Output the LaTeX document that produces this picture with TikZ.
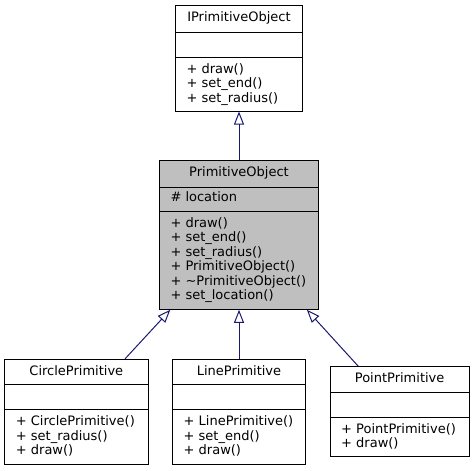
\documentclass[tikz,border=0pt]{standalone}
\usepackage{fontspec}
\setmainfont{DejaVu Sans}
\usepackage{tikz}
\usetikzlibrary{arrows.meta}
\definecolor{edgeblue}{HTML}{191970}
\definecolor{basegray}{HTML}{BFBFBF}
\tikzstyle{classbox}=[draw=black,line width=1pt,inner sep=0pt]
\tikzstyle{title}=[anchor=base,inner sep=0pt]
\tikzstyle{member}=[anchor=base west,inner sep=0pt]
\tikzstyle{inherit}=[draw=edgeblue,line width=1pt,-{Triangle[open,length=13pt,width=10pt]}]

\begin{document}
\begin{tikzpicture}[x=1pt,y=-1pt,font=\fontsize{13}{15}\selectfont]
\useasboundingbox (0,0) rectangle (474,471);

% interface
\node[classbox,minimum width=127.4pt,minimum height=105.3pt] (iprimobj) at (239,58.35) {};
\draw (175.3,31.7) -- (302.7,31.7);
\draw (175.3,56.7) -- (302.7,56.7);
\node[title] (iprimobj-t) at (239,21.5) {IPrimitiveObject};
\node[member] (iprimobj-m1) at (186.3,73) {+ draw()};
\node[member] (iprimobj-m2) at (186.3,87.5) {+ set\_end()};
\node[member] (iprimobj-m3) at (186.3,102) {+ set\_radius()};

% base class
\node[classbox,fill=basegray,minimum width=159.3pt,minimum height=148.6pt] (primobj) at (239,235) {};
\draw (159.35,186.7) -- (318.65,186.7);
\draw (159.35,211) -- (318.65,211);
\node[title] (primobj-t) at (239,176.5) {PrimitiveObject};
\node[member] (primobj-a1) at (170.3,201.7) {\# location};
\node[member] (primobj-m1) at (170.3,227.3) {+ draw()};
\node[member] (primobj-m2) at (170.3,241.8) {+ set\_end()};
\node[member] (primobj-m3) at (170.3,256.3) {+ set\_radius()};
\node[member] (primobj-m4) at (170.3,270.8) {+ PrimitiveObject()};
\node[member] (primobj-m5) at (170.3,285.3) {+ \textasciitilde PrimitiveObject()};
\node[member] (primobj-m6) at (170.3,299.8) {+ set\_location()};

% derived classes
\node[classbox,minimum width=143.3pt,minimum height=104.7pt] (circleprim) at (76.35,411.65) {};
\draw (4.7,384.3) -- (148,384.3);
\draw (4.7,409.3) -- (148,409.3);
\node[title] (circleprim-t) at (76.35,375) {CirclePrimitive};
\node[member] (circleprim-m1) at (15.7,425.6) {+ CirclePrimitive()};
\node[member] (circleprim-m2) at (15.7,440.1) {+ set\_radius()};
\node[member] (circleprim-m3) at (15.7,454.6) {+ draw()};

\node[classbox,minimum width=133pt,minimum height=104.7pt] (lineprim) at (239,411.65) {};
\draw (172.5,384.3) -- (305.5,384.3);
\draw (172.5,409.3) -- (305.5,409.3);
\node[title] (lineprim-t) at (239,375) {LinePrimitive};
\node[member] (lineprim-m1) at (183.5,425.6) {+ LinePrimitive()};
\node[member] (lineprim-m2) at (183.5,440.1) {+ set\_end()};
\node[member] (lineprim-m3) at (183.5,454.6) {+ draw()};

\node[classbox,minimum width=139.3pt,minimum height=90pt] (pointprim) at (399.65,411.7) {};
\draw (330,391.7) -- (469.3,391.7);
\draw (330,416.7) -- (469.3,416.7);
\node[title] (pointprim-t) at (399.65,382.5) {PointPrimitive};
\node[member] (pointprim-m1) at (341,433) {+ PointPrimitive()};
\node[member] (pointprim-m2) at (341,447.5) {+ draw()};

% inheritance
\draw[inherit] (primobj) -- (iprimobj);
\draw[inherit] (circleprim) -- (primobj);
\draw[inherit] (lineprim) -- (primobj);
\draw[inherit] (pointprim) -- (primobj);
\end{tikzpicture}
\end{document}
